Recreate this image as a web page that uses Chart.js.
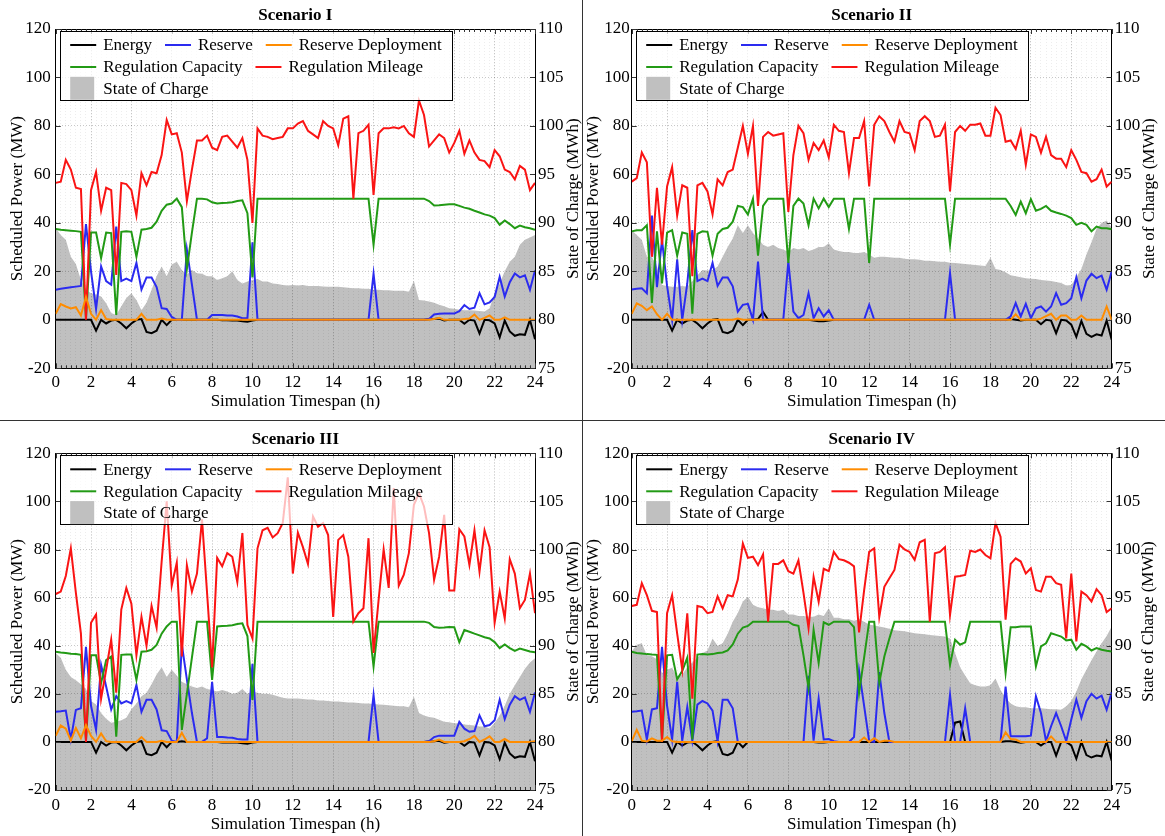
<!DOCTYPE html>
<html><head><meta charset="utf-8">
<script src="https://cdn.jsdelivr.net/npm/chart.js@4.4.0/dist/chart.umd.min.js"></script>
<style>
html,body{margin:0;padding:0;background:#fff;overflow:hidden;width:1165px;height:836px;position:relative;}
canvas.panel{position:absolute;}
.vline{position:absolute;left:582px;top:0;width:1px;height:836px;background:#333;}
.hline{position:absolute;left:0;top:420px;width:1165px;height:1px;background:#333;}
</style></head><body>
<canvas id="c1" class="panel" width="582" height="420" style="left:0;top:0"></canvas>
<canvas id="c2" class="panel" width="582" height="420" style="left:583px;top:0"></canvas>
<canvas id="c3" class="panel" width="582" height="420" style="left:0;top:421px"></canvas>
<canvas id="c4" class="panel" width="582" height="420" style="left:583px;top:421px"></canvas>
<div class="vline"></div><div class="hline"></div>
<script>
// ---- categories / ticks ----
const hours = Array.from({length: 96}, (_, i) => (i + 1) * 0.25);
const xTickValues = [0.25, 2, 4, 6, 8, 10, 12, 14, 16, 18, 20, 22, 24];
const xTickLabels = ['0', '2', '4', '6', '8', '10', '12', '14', '16', '18', '20', '22', '24'];
const powerTicks = [-20, 0, 20, 40, 60, 80, 100, 120];
const socTicks = [75, 80, 85, 90, 95, 100, 105, 110];
const titles = ['Scenario I', 'Scenario II', 'Scenario III', 'Scenario IV'];
const seriesNames = ['Energy', 'Reserve', 'Reserve Deployment', 'Regulation Capacity', 'Regulation Mileage', 'State of Charge'];

// ---- Scenario I ----
const energyI = [0,0,0,0,0,0,0,0, -4.5,0,-1.5,-0.3,0,-1.5,-3.5,-1.5, 0,0.3,-5,-5.5,-4.5,0,-2.2,0, 0,0,0,0,0,0,0,0,
 0,-0.2,-0.2,-0.3,-0.3,-0.6,-0.8,-0.3, 0,0,0,0,0,0,0,0, 0,0,0,0,0,0,0,0, 0,0,0,0,0,0,0,0, 0,0,0,0,0,0,0,0,
 0,0,0.2,0.3,0.5,-0.3,0,0, 0,-1.6,0,-0.3,-5.6,0,-0.2,-1.5, -7.2,-0.3,-4.8,-6.6,-6,-6.2,0,-8];
const reserveI = [12.4,12.8,13.1,13.4,13.7,14,39.5,20, 4.5,22,16,14.5,38.5,16,17,16, 23.5,12.5,17.5,17.5,13.5,4.8,4.5,1.2,
 0,0,29,14.5,0,0,0,2, 2,2,1.8,1.8,1.4,0.7,0.7,32, 0,0,0,0,0,0,0,0, 0,0,0,0,0,0,0,0, 0,0,0,0,0,0,0,19, 0,0,0,0,0,0,0,0,
 0,0,0.3,2.2,2.5,2.6,2.6,2.6, 3.6,6.1,4.5,5,11,6.4,7.2,9.4, 17.7,9.6,15.5,19.1,17.5,18.4,12.4,20.4];
const deployI = [2.5,6.5,5.5,4.7,5.2,1.8,9.5,2.5, 0,4,0.3,0,0,0,0,0, 0,2.5,0,0,0,0.5,0,0, 0,0,0,0,0,0,0,0,
 0,0,0,0,0,0,0,0, 0,0,0,0,0,0,0,0, 0,0,0,0,0,0,0,0, 0,0,0,0,0,0,0,0, 0,0,0,0,0,0,0,0,
 0,0,0,0.3,0.8,0,0,0, 0,0.3,0.5,2.2,0,0.8,1.8,0, 0,1,0,0,0,0,0,0];
const capacityI = [37.5,37.2,37,36.8,36.6,36.3,0.5,36, 36,25.5,36,35.8,2,36.3,36.5,36.3, 26,37.2,37.5,38,40.5,45,47.5,48,
 50,46.5,21,36,50,50,49.7,48.5, 48,48.2,48.3,48.5,49,49.3,44,17.5, 50,50,50,50,50,50,50,50, 50,50,50,50,50,50,50,50,
 50,50,50,50,50,50,50,31, 50,50,50,50,50,50,50,50, 50,50,49,47.2,47.3,47.5,47.7,47.7, 47,46.3,45.8,45,44.3,43.5,43,42,
 39.2,41,39.5,37.8,38.9,38.2,37.8,37.1];
const mileageI = [56.5,57,66,62,54.5,54,0,53.5, 61,45,54.5,53.5,18.5,56.5,56,53.5, 43,60.5,55.5,61,60.5,68,82.5,76.5,
 77,69,49,62,74,74,76,71, 70,75.5,76,73.5,71,75,66,40, 79,76,75.5,74.5,75,75.5,79,79, 81,82,78,76.5,75,82,80,79,
 72,83,84,50,77,78,80.5,51.5, 77,79,79,79.5,79,80,77,75.5, 90.5,84.5,71.5,74,76.5,75,69,73, 78,68.5,74,69,66,65.5,63,70,
 67.5,62,61,58,63.5,62,53.5,56.5];
const socI = [89.45,88.75,88.25,86.5,85.75,84.1,83.1,82.75, 82.6,82.4,81.7,80.7,80.5,81.4,82.25,82.75,
 82.05,81,81.75,83.1,84.5,85.5,84.5,85.7, 86,85.15,84.65,85.15,84.8,84.75,84.5,84.5, 84.1,84.3,84.5,85,84.1,83.75,83.95,84.1,
 84.2,83.95,83.95,83.75,83.7,83.6,83.55,83.6, 83.55,83.6,83.5,83.5,83.5,83.45,83.4,83.4, 83.4,83.35,83.3,83.25,83.25,83.2,83.2,83.1,
 83.1,83.05,83.05,83,83,83,82.9,84, 82.05,82,81.9,81.75,81.55,81.4,81.2,81.15, 81.05,81,81,80.95,80.9,80.85,81.2,82.75,
 83.75,85,86,86.5,87.75,88.25,88.5,88.75];

// ---- Scenario II ----
const energyII = [0,0,0,0,0,0,0,0, -4.5,0,-1.5,-0.3,0,-1.5,-3.5,-1.5, 0,0.3,-5,-5.5,-4.5,0,-2.2,0, 0,0.3,3.2,0,0,0,0,0,
 0,0,0,0,-0.3,-0.6,-0.6,-0.3, 0,0,0,0,0,0,0,0, 0,0,0,0,0,0,0,0, 0,0,0,0,0,0,0,0, 0,0,0,0,0,0,0,0,
 0,0,0,0.3,0,-0.3,0,0, 0,-1.8,0,-0.3,-5.5,0,-0.3,-2, -7,-0.5,-5.8,-7,-6,-6.5,-0.3,-8.2];
const reserveII = [12.5,12.8,13,11,43,13.5,33,14, 0,25,0,15,37,16,17,16, 23.5,14,17.5,17.5,13.8,3.4,6.2,6.6,
 0,24,0,0,0,0,0,24, 3.4,0.7,2,11,0.7,4.8,1.4,3.9, 0,0,0,0,0,0,0,6.2, 0,0,0,0,0,0,0,0, 0,0,0,0,0,0,0,19.3, 0,0,0,0,0,0,0,0,
 0,0,0,1.4,6.9,1.4,6.6,0.7, 4.8,5.5,3.4,5.5,11,6.2,6.9,8.9, 17.6,8.9,16.2,19,17.2,18.2,12.4,20];
const deployII = [2.5,6.8,5.8,4,5.5,2.3,0,2.5, 0,0,0,0,0,0,0,0, 0,0,0,0,0,0.5,0,0, 0,0,0,0,0,0,0,0,
 0,0,0,0,0,0,0,0, 0,0,0,0,0,0,0,0, 0,0,0,0,0,0,0,0, 0,0,0,0,0,0,0,0, 0,0,0,0,0,0,0,0,
 0,0,0,0,2.3,0,0,0, 0,0.5,1.5,2.5,0,1.8,1.8,0, 0,1.8,0,0,0,0,5.5,0];
const capacityII = [36.5,37,37,39,7,36.5,15,36, 37,26.5,36,35.5,2.5,35.5,36.5,36.3, 26.5,35.5,37.5,38,40.5,47,46.5,43.5,
 50,26.5,47,50,50,50,50,23.5, 47,50,48,39,50,46,50,46.5, 50,50,50,37.5,50,50,50,23.5, 50,50,50,50,50,50,50,50,
 50,50,50,50,50,50,50,31, 50,50,50,50,50,50,50,50, 50,50,50,47,43.3,48.8,44,49.8, 45,45.8,47,45,44.3,43.7,43,42,
 39.2,40,39.2,36.5,38.5,37.8,37.8,37.4];
const mileageII = [57,58.5,69,65,26,54.5,31,55, 63,43,55.5,54.5,18,55.5,56.5,53, 43.5,58,55.5,61,62,71,80,68.5,
 80,47,75.5,77.5,76,76.5,77,44.5, 68,80,77,66,73,70,74,67, 80.5,78,77.5,60.5,75,75,82,55, 80.5,84,82,77.5,73.5,82,77.5,77,
 70,82,84,82,75.5,76,80.5,53, 77.5,80,78,80.5,80.5,81,76,76, 87.5,84.5,73.5,74,70.5,78,64,76.5, 75.5,69,75.5,68,66.5,66.5,63,70,
 66,61,60.5,57,58,62,55,57];
const socII = [89.25,88.75,88.25,86.5,86.5,85.5,83.6,83.5, 83.4,83.4,83.5,83.4,84,84.6,85.15,85.1,
 85.15,85.5,86.5,87.5,88.4,89.75,88.95,89.75, 88.95,88.4,87.75,87.5,87.75,87.4,87.25,87, 87.4,87.25,87.4,87.1,87.25,87.5,87.5,87.9,
 87.25,87.1,87,87,86.9,86.9,87,86.75, 86.4,86.5,86.5,86.45,86.4,86.4,86.3,86.25, 86.25,86.2,86.1,86.1,86.05,86,86,85.9,
 85.85,85.8,85.75,85.7,85.65,85.6,85.55,86.4, 85.25,85.15,84.9,84.6,84.5,84.4,84.3,84.25, 84.2,84.1,84.05,84,83.9,83.8,83.55,83.6,
 84.4,85.25,86.75,88,89.4,90,90.25,89.5];

// ---- Scenario III ----
const energyIII = [0,0,0,0,0,0,0,0, -4.5,0,-1.5,-0.3,0,-1.5,-3.5,-1.5, 0,0.3,-5,-5.5,-4.5,0,-2.2,0, 0,0.3,0,0,0,0,0,0,
 0,-0.2,-0.2,-0.3,-0.3,-0.6,-0.8,-0.3, 0,0,0,0,0,0,0,0, 0,0,0,0,0,0,0,0, 0,0,0,0,0,0,0,0, 0,0,0,0,0,0,0,0,
 0,0,0.2,0.3,0.5,-0.3,0,0, 0,-1.6,0,-0.3,-5.6,0,-0.2,-1.5, -7.2,-0.3,-4.8,-6.6,-6,-6.2,0,-8];
const reserveIII = [12.5,12.7,13,1,13.3,14,39.5,15, 5,32,23,13.5,19,16,17,16, 23.7,12.5,17.5,17.5,13.5,4.8,4.5,0.5,
 0,40.5,26,12,0,0,1.5,25, 2,2,1.8,1.7,1.2,1,1,32.5, 0,0,0,0,0,0,0,0, 0,0,0,0,0,0,0,0, 0,0,0,0,0,0,0,19.5, 0,0,0,0,0,0,0,0,
 0,0,0.3,2,2.6,2.6,2.6,2.6, 8.3,5.5,4.2,4.5,11,6.5,7,9, 17.5,9.5,15.5,19,17.5,18.5,12.5,20.5];
const deployIII = [2.5,6.8,5.5,0.5,5.8,1.5,7,2.5, 0,3.5,0.3,0,0,0,0,0, 0,2,0,0,0,0.5,0,0, 0,3.8,0,0,0,0,0,0,
 0,0,0,0,0,0,0,0, 0,0,0,0,0,0,0,0, 0,0,0,0,0,0,0,0, 0,0,0,0,0,0,0,0, 0,0,0,0,0,0,0,0,
 0,0,0,0.3,1,0,0,0, 0,0.3,1.2,2.5,0,1,2.3,0, 0,1.2,0,0,0,0,0,0.3];
const capacityIII = [37.5,37.2,37,36.7,36.5,36.2,0.5,36, 36,24.4,34,35.5,2.2,36.2,36.3,36.3, 25.8,37.5,37.7,38.3,40.3,45,48,50,
 50,5,20,35,50,50,50,25.8, 48,48.2,48.3,48.5,49,49.3,44,17.5, 50,50,50,50,50,50,50,50, 50,50,50,50,50,50,50,50,
 50,50,50,50,50,50,50,31.3, 50,50,50,50,50,50,50,50, 50,50,49.5,47.8,47.5,47.6,47.8,47.7, 41.5,46.5,45.8,45,44.3,43.5,43,41.5,
 39,40.5,39,37.8,38.8,38.2,37.6,37.3];
const mileageIII = [61.5,62.5,69,80.5,62,45,0,49.5, 53,18,30,42.5,20.5,55,64,57.5, 36,52,40,56.5,47.5,75,100,65,
 74.5,35.5,73.5,62.5,70,92.5,62,31, 76.5,73,78.5,77,66.5,86.8,48.6,43, 80.5,88,89,85,86.8,91,110,70, 87,81,74,93.7,89.5,91,86,52,
 84,86,77,50,53.5,55.6,84.7,37, 59,80,64,105.5,65,69.5,78.5,98.6, 103.4,97.9,86.8,67.4,77,94.4,63,63, 88.4,85.4,73.6,88,70.8,88,81,49.6,
 62.5,51.4,76,70,55.6,59,70,53.5];
const socIII = [89.25,88.75,87.5,86.75,86.4,86,85.5,84.25, 83.9,83,82.4,82,82.1,82.25,82.5,83.4,
 84,84.75,85.1,86,87,87.75,86.75,87.5, 86.9,86.25,86,85.75,85.6,85.75,85.5,85.4, 85.25,85.4,85.25,85,85.1,85.5,85,85.25,
 85.1,85,85,84.9,84.75,84.6,84.5,84.5, 84.5,84.45,84.4,84.4,84.3,84.3,84.25,84.2, 84.2,84.15,84.1,84.1,84.05,84,84,83.95,
 83.9,83.85,83.8,83.75,83.7,83.7,83.6,84.7, 83,82.75,82.6,82.5,82.3,82.1,82.05,81.95, 81.9,81.8,81.75,81.7,81.6,81.6,81.4,82,
 82.75,83.75,85,85.9,86.75,87.6,88.25,88.7];

// ---- Scenario IV ----
const energyIV = [0,0,0,0,0,0,0,0, -4.5,0,-1.5,-0.3,0,-1.5,-3.5,-1.5, 0,0.3,-5,-5.5,-4.5,0,-2.2,0, 0,0,0,0,0,0,0,0,
 0,0,0,0,0,-0.3,-0.3,0, 0,0,0,0,0,0,0,0, 0,0,0,0,0,0,0,0, 0,0,0,0,0,0,0,0, 8,8.5,0,0,0,0,0,0,
 0,0,0.3,0.3,0,-0.3,0,0, 0,-1.5,0,0,-5.7,0,0,-1.5, -7,0,-5.5,-6.5,-5.7,-6,0,-7.8];
const reserveIV = [12.5,12.7,13,1,13.5,14,39.5,15, 1,25,0.5,14.5,0.5,15.5,17,16, 13,0.3,17.5,17.5,14,0,0,0,
 0,0,0,0,0,0,0,0, 0,0,0,27.5,0.5,18,1,1.2, 0.3,0,0,0,2,29.5,15,0.3, 0,29,12,0,0,0,0,0, 0,0,0,0,0,0,0,19.6, 0,0,14,0,0,0,0,0,
 0,0,23,2.3,2.3,2.3,2.4,2.6, 19,12,0.3,6.5,12,6.5,0.3,9.3, 17.6,10,16.9,20,18,19.2,13.4,20.6];
const deployIV = [0.3,5,0.5,0.2,1.5,0.5,0.5,2, 0.3,0,0,0,0,0,0,0, 0,0,0,0,0,0,0,0, 0,0,0,0,0,0,0,0,
 0,0,0,0,0,0,0,0, 0,0,0,0,0,0,1.8,0, 1.5,0,0.5,0.5,0,0,0,0, 0,0,0,0,0,0,0,0, 0,0,0,0,0,0,0,0,
 0,0,4,1.2,1,0,0,0, 0,0,0,2.3,0,0,0,0, 0,0,0,0,0,0,0,0];
const capacityIV = [37.5,37,36.8,36.5,36.3,36.2,0.5,36, 36.2,26,29.5,35,1,36.3,36.5,36.3, 36.5,37,37.2,38,40.5,45,47.5,48.2,
 50,50,50,50,50,50,50,50, 48.7,48.3,36,22.4,46.6,32.8,49.7,48.7, 50,50,50,50,47.7,20.3,35,50, 50,24.5,35.5,43,50,50,50,50,
 50,50,50,50,50,50,50,32, 42.5,40.4,41.4,50,50,50,50,50, 50,50,28.6,47.7,47.7,48,48,48, 31.4,39.7,41,45.2,44.5,43.8,42.2,42.5,
 38.3,40.8,39.7,38,39,38.3,37.9,37.6];
const mileageIV = [56.5,57,66,61,54.5,54,0,53.5, 61,45,30,53.5,18,56.5,56,53.5, 54,60.5,55.5,61,60.5,67.5,82.5,76.5,
 77,73.5,78,50,74,74,75.5,71, 70,75.5,62,47.3,68.6,58.3,72,71, 79,76,75.5,74.5,73,45.5,63,79, 80.5,52,64.5,68,71.5,82,80,79,
 75.7,83,84,50,78.4,79,81,52.8, 68.7,69,69.4,79.5,79,80,77.7,76.3, 91,85.3,50.8,74,76.3,75,70,72.2, 63.2,62.5,68.7,68.7,66,65.3,43,70,
 41.8,62.5,61,58.4,63.5,61,54,55.6];
const socIV = [89.4,90.1,90.25,89,88.9,88.6,87.15,87.5, 87.7,86.75,87,87.75,88.25,88.75,89.25,89.5,
 90.75,90,90.25,91.25,92.5,93.4,94.6,95.1, 94.25,94,93.9,93.75,93.75,93.6,93.75,93.25, 93.25,93.1,93.1,93,93,93.25,93.1,93.9,
 92.9,92.9,92.75,92.75,92.6,92.75,92.5,92.2, 92.1,92,91.9,91.75,91.6,91.55,91.5,91.4, 91.3,91.25,91.2,91.1,91.05,91,90.95,90.75,
 89.25,87.75,86.9,86.1,85.9,85.75,85.75,85.9, 86.6,85.4,84.6,84,83.7,83.6,83.6,83.5, 83.5,83.5,83.45,83.4,83.4,83.35,83.7,84.25,
 85.25,86.5,87.5,88.5,89.4,90.25,91,92];

// ---- styling ----
const FONT = '"Liberation Serif", "Times New Roman", serif';
Chart.defaults.font.family = FONT;
Chart.defaults.font.size = 17;
Chart.defaults.color = '#000';
const colors = ['#000000', '#2b2bf0', '#ff8c00', '#229a15', '#fa1414'];
const socColor = '#c0c0c0';
const minorTickValues = hours;

const inwardTicks = {
  id: 'inwardTicks',
  afterDatasetsDraw(chart) {
    const {ctx, chartArea: a, scales} = chart;
    const x = scales.x, y = scales.y, y2 = scales.y2;
    ctx.save();
    ctx.strokeStyle = '#333'; ctx.lineWidth = 1;
    ctx.beginPath();
    minorTickValues.forEach(v => {
      const p = Math.round(x.getPixelForValue(v)) + 0.5;
      const L = xTickValues.includes(v) ? 5 : 3;
      ctx.moveTo(p, a.bottom); ctx.lineTo(p, a.bottom - L);
      ctx.moveTo(p, a.top); ctx.lineTo(p, a.top + L);
    });
    powerTicks.forEach(v => {
      const p = Math.round(y.getPixelForValue(v)) + 0.5;
      ctx.moveTo(a.left, p); ctx.lineTo(a.left + 5, p);
    });
    socTicks.forEach(v => {
      const p = Math.round(y2.getPixelForValue(v)) + 0.5;
      ctx.moveTo(a.right, p); ctx.lineTo(a.right - 5, p);
    });
    ctx.stroke();
    ctx.restore();
  }
};

const boxLegend = {
  id: 'boxLegend',
  afterDatasetsDraw(chart) {
    const {ctx, chartArea: a} = chart;
    const ds = chart.data.datasets;
    ctx.save();
    ctx.font = '17px ' + FONT;
    const rows = [[0, 1, 2], [3, 4], [5]];
    const rowY = [16, 38, 59.3];
    const x0 = a.left + 14.5;
    let maxRight = 0;
    const items = [];
    rows.forEach((r, ri) => {
      let x = x0;
      r.forEach(i => {
        const w = ctx.measureText(ds[i].label).width;
        items.push({i, x, y: a.top + rowY[ri]});
        x += 33 + w;
        maxRight = Math.max(maxRight, x);
        x += 13;
      });
    });
    const bx = Math.round(a.left + 4) + 0.5, by = Math.round(a.top + 2) + 0.5;
    const bw = Math.round(maxRight + 11 - bx), bh = 69;
    ctx.fillStyle = 'rgba(255,255,255,0.72)';
    ctx.fillRect(bx, by, bw, bh);
    ctx.strokeStyle = '#000'; ctx.lineWidth = 1;
    ctx.strokeRect(bx, by, bw, bh);
    items.forEach(it => {
      const d = ds[it.i];
      if (d.fill) {
        ctx.fillStyle = d.backgroundColor;
        ctx.fillRect(it.x, it.y - 11.5, 24, 23);
      } else {
        ctx.strokeStyle = d.borderColor; ctx.lineWidth = 2;
        ctx.beginPath(); ctx.moveTo(it.x, it.y); ctx.lineTo(it.x + 26, it.y); ctx.stroke();
      }
      ctx.fillStyle = '#000'; ctx.textBaseline = 'middle'; ctx.textAlign = 'left';
      ctx.fillText(d.label, it.x + 33, it.y + 1);
    });
    ctx.restore();
  }
};

const rightTitle = {
  id: 'rightTitle',
  afterDraw(chart, args, opts) {
    const {ctx, chartArea: a} = chart;
    ctx.save();
    ctx.font = '17px ' + FONT;
    ctx.fillStyle = '#000';
    ctx.translate(opts.x, (a.top + a.bottom) / 2);
    ctx.rotate(-Math.PI / 2);
    ctx.textAlign = 'center'; ctx.textBaseline = 'middle';
    ctx.fillText(opts.text, 0, 0);
    ctx.restore();
  }
};

function xy(arr) { return arr.map((v, i) => ({x: hours[i], y: v})); }

function makeChart(id, title, s, L) {
  const lineSets = [s.energy, s.reserve, s.deploy, s.capacity, s.mileage];
  const orders = [4, 3, 0, 2, 1];
  const datasets = lineSets.map((arr, k) => ({
    label: seriesNames[k], data: xy(arr), borderColor: colors[k], backgroundColor: colors[k],
    borderWidth: 2, pointRadius: 0, tension: 0, fill: false, xAxisID: 'x', yAxisID: 'y', order: orders[k]
  }));
  datasets.push({
    label: seriesNames[5], data: xy(s.soc), borderColor: 'rgba(0,0,0,0)', backgroundColor: socColor,
    borderWidth: 0, pointRadius: 0, tension: 0, fill: 'start', xAxisID: 'x', yAxisID: 'y2', order: 5
  });
  const majorGrid = 'rgba(0,0,0,0.22)';
  new Chart(document.getElementById(id), {
    type: 'line',
    data: {datasets},
    plugins: [inwardTicks, boxLegend, rightTitle],
    options: {
      responsive: false, animation: false, devicePixelRatio: 1, events: [],
      layout: {padding: 0},
      plugins: {
        legend: {display: false},
        tooltip: {enabled: false},
        filler: {drawTime: 'beforeDraw'},
        title: {display: true, text: title, fullSize: false, color: '#000',
          font: {size: 17, weight: 'bold'}, padding: {top: L.titleTop, bottom: 3.6}},
        rightTitle: {x: L.rtx, text: 'State of Charge (MWh)'}
      },
      scales: {
        x: {
          type: 'linear', position: 'bottom', min: 0.25, max: 24,
          afterBuildTicks: sc => { sc.ticks = xTickValues.map(v => ({value: v})); },
          afterFit: sc => { sc.height = L.xh; },
          ticks: {autoSkip: false, maxRotation: 0, minRotation: 0, padding: L.xtp, color: '#000',
            callback: (v, i) => xTickLabels[i]},
          grid: {color: majorGrid, drawTicks: false},
          border: {display: true, color: '#000', width: 1, dash: [1, 2]},
          title: {display: true, text: 'Simulation Timespan (h)', color: '#000', padding: {top: 0, bottom: L.xtt}}
        },
        xm: {
          type: 'linear', position: 'top', min: 0.25, max: 24,
          afterBuildTicks: sc => { sc.ticks = minorTickValues.map(v => ({value: v})); },
          afterFit: sc => { sc.height = 0; },
          ticks: {display: false},
          grid: {color: 'rgba(0,0,0,0.07)', drawTicks: false},
          border: {display: true, color: '#000', width: 1, dash: [1, 2]}
        },
        y: {
          type: 'linear', position: 'left', min: -20, max: 120,
          afterBuildTicks: sc => { sc.ticks = powerTicks.map(v => ({value: v})); },
          afterFit: sc => { sc.width = L.yw; },
          ticks: {padding: L.ytp, color: '#000'},
          grid: {color: majorGrid, drawTicks: false},
          border: {display: true, color: '#000', width: 1, dash: [1, 2]},
          title: {display: true, text: 'Scheduled Power (MW)', color: '#000', padding: {top: L.ytt, bottom: 0}}
        },
        y2: {
          type: 'linear', position: 'right', min: 75, max: 110,
          afterBuildTicks: sc => { sc.ticks = socTicks.map(v => ({value: v})); },
          afterFit: sc => { sc.width = L.y2w; },
          ticks: {padding: 3, color: '#000'},
          grid: {display: false, drawTicks: false},
          border: {display: true, color: '#000', width: 1}
        }
      }
    }
  });
}

const layoutTopLeft = {titleTop: 5, xh: 51.7, xtp: 4, xtt: 8.1, yw: 55.7, ytp: 5, ytt: 7.3, y2w: 47, rtx: 573.5};
const layoutTopRight = {titleTop: 5, xh: 51.7, xtp: 4, xtt: 8.1, yw: 48.7, ytp: 2, ytt: 0, y2w: 53.3, rtx: 567};
const layoutBotLeft = {titleTop: 8.3, xh: 51, xtp: 5.5, xtt: 5.8, yw: 55.7, ytp: 5, ytt: 7.3, y2w: 47, rtx: 574};
const layoutBotRight = {titleTop: 8.3, xh: 51, xtp: 5.5, xtt: 5.8, yw: 48.7, ytp: 2.5, ytt: 0, y2w: 53.3, rtx: 566};

makeChart('c1', titles[0], {energy: energyI, reserve: reserveI, deploy: deployI, capacity: capacityI, mileage: mileageI, soc: socI}, layoutTopLeft);
makeChart('c2', titles[1], {energy: energyII, reserve: reserveII, deploy: deployII, capacity: capacityII, mileage: mileageII, soc: socII}, layoutTopRight);
makeChart('c3', titles[2], {energy: energyIII, reserve: reserveIII, deploy: deployIII, capacity: capacityIII, mileage: mileageIII, soc: socIII}, layoutBotLeft);
makeChart('c4', titles[3], {energy: energyIV, reserve: reserveIV, deploy: deployIV, capacity: capacityIV, mileage: mileageIV, soc: socIV}, layoutBotRight);
</script>
</body></html>
